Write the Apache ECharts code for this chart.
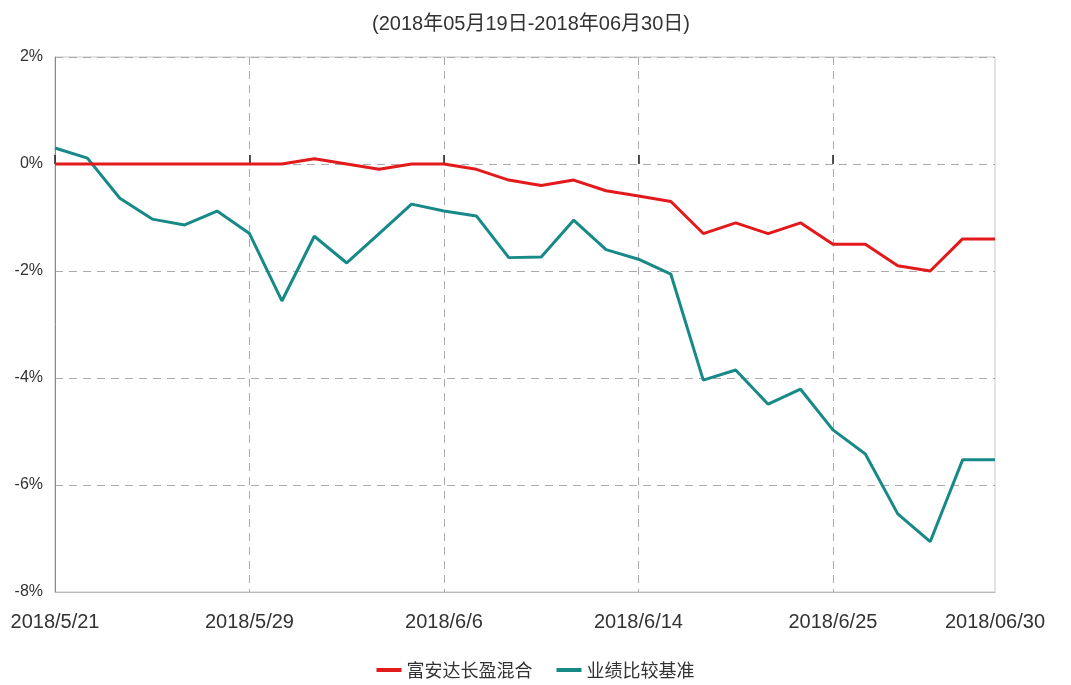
<!DOCTYPE html>
<html>
<head>
<meta charset="utf-8">
<style>
  html, body { margin: 0; padding: 0; background: #fff; }
  #main { width: 1071px; height: 685px; }
</style>
<script src="https://cdn.jsdelivr.net/npm/echarts@6/dist/echarts.min.js"></script>
</head>
<body>
<div id="main"></div>
<script>
// trading days shown on the x axis
const dates = [
  '2018/5/21', '2018/5/22', '2018/5/23', '2018/5/24', '2018/5/25',
  '2018/5/28', '2018/5/29', '2018/5/30', '2018/5/31', '2018/6/1',
  '2018/6/4', '2018/6/5', '2018/6/6', '2018/6/7', '2018/6/8',
  '2018/6/11', '2018/6/12', '2018/6/13', '2018/6/14', '2018/6/15',
  '2018/6/19', '2018/6/20', '2018/6/21', '2018/6/22', '2018/6/25',
  '2018/6/26', '2018/6/27', '2018/6/28', '2018/6/29', '2018/06/30'
];

// 富安达长盈混合 (%)
const fundValues = [
  0, 0, 0, 0, 0, 0, 0, 0, 0.1, 0,
  -0.1, 0, 0, -0.1, -0.3, -0.4, -0.3, -0.5, -0.6, -0.7,
  -1.3, -1.1, -1.3, -1.1, -1.5, -1.5, -1.9, -2.0, -1.4, -1.4
];

// 业绩比较基准 (%)
const benchValues = [
  0.3, 0.11, -0.64, -1.03, -1.14, -0.88, -1.3, -2.56, -1.35, -1.85,
  -1.3, -0.75, -0.88, -0.97, -1.75, -1.74, -1.05, -1.6, -1.78, -2.06,
  -4.04, -3.85, -4.49, -4.21, -4.97, -5.42, -6.54, -7.06, -5.53, -5.53
];

const seriesNames = ['富安达长盈混合', '业绩比较基准'];
const subtitle = '(2018年05月19日-2018年06月30日)';

const chart = echarts.init(document.getElementById('main'));

const lastIdx = dates.length - 1;
const showLabel = (i) => i % 6 === 0 || i === lastIdx;
const showSplit = (i) => i % 6 === 0 && i > 0 && i < lastIdx;

const option = {
  backgroundColor: '#fff',
  animation: false,
  title: {
    text: subtitle,
    left: 526,
    textAlign: 'center',
    top: 9,
    textStyle: { fontSize: 20, fontWeight: 'normal', color: '#333', fontFamily: 'Liberation Sans, Noto Sans CJK SC' }
  },
  legend: {
    bottom: 1,
    left: 'center',
    itemWidth: 25,
    itemHeight: 4,
    itemGap: 24,
    icon: 'rect',
    textStyle: { fontSize: 18, color: '#333', fontFamily: 'Noto Sans CJK SC' },
    data: seriesNames
  },
  grid: {
    left: 55, right: 76, top: 57, bottom: 93,
    show: true,
    borderColor: '#c8c8c8',
    borderWidth: 1
  },
  xAxis: [
    {
      type: 'category',
      data: dates,
      boundaryGap: false,
      axisLine: { onZero: false, lineStyle: { color: '#bbb' } },
      axisTick: { show: false },
      axisLabel: {
        interval: (i) => showLabel(i),
        color: '#333',
        fontSize: 20,
        margin: 20,
        fontFamily: 'Liberation Sans'
      },
      splitLine: {
        show: true,
        interval: (i) => showSplit(i),
        lineStyle: { color: '#aaa', type: [8, 6] }
      }
    },
    {
      // tick marks sitting on the 0% line
      type: 'category',
      data: dates,
      boundaryGap: false,
      position: 'bottom',
      axisLine: { show: false, onZero: true },
      axisLabel: { show: false },
      axisTick: { show: true, inside: true, length: 9, interval: (i) => i % 6 === 0, lineStyle: { color: '#222', width: 1.5 } },
      splitLine: { show: false }
    }
  ],
  yAxis: {
    type: 'value',
    min: -8,
    max: 2,
    interval: 2,
    axisLine: { show: true, lineStyle: { color: '#888' } },
    axisTick: { show: false },
    axisLabel: {
      formatter: '{value}%',
      color: '#333',
      fontSize: 16,
      margin: 12,
      fontFamily: 'Liberation Sans'
    },
    splitLine: { show: true, lineStyle: { color: '#aaa', type: [8, 6] } }
  },
  series: [
    {
      name: seriesNames[0],
      type: 'line',
      data: fundValues,
      symbol: 'none',
      color: '#e31a1c',
      lineStyle: { width: 3, color: '#e31a1c' },
      z: 3
    },
    {
      name: seriesNames[1],
      type: 'line',
      data: benchValues,
      symbol: 'none',
      color: '#178a88',
      lineStyle: { width: 3, color: '#178a88' },
      z: 2
    }
  ]
};

chart.setOption(option);
</script>
</body>
</html>
